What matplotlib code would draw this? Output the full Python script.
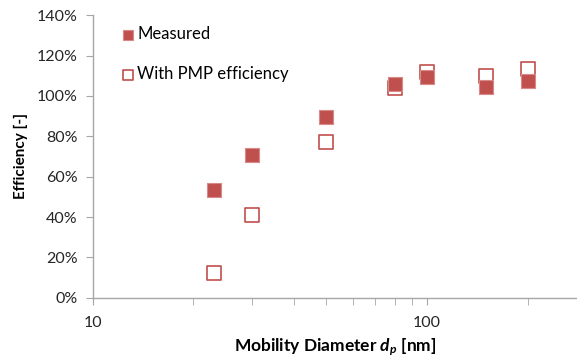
import matplotlib
matplotlib.use("Agg")
import matplotlib.pyplot as plt
from matplotlib.ticker import FixedLocator, NullFormatter, FuncFormatter

diameter_nm = [23, 30, 50, 80, 100, 150, 200]
measured = [53.5, 70.5, 89.5, 106, 109.5, 104.5, 107.5]
with_pmp = [12.5, 41, 77, 104, 112, 110, 113.5]
y_ticks = [0, 20, 40, 60, 80, 100, 120, 140]

red = "#C0504D"
grey = "#A6A6A6"
plt.rcParams['font.family'] = ['Lato', 'DejaVu Sans']
plt.rcParams['mathtext.fontset'] = 'custom'
plt.rcParams['mathtext.it'] = 'Lato:italic:bold'
plt.rcParams['mathtext.rm'] = 'Lato:bold'
plt.rcParams['mathtext.bf'] = 'Lato:italic:bold'

fig = plt.figure(figsize=(5.77, 3.61), dpi=100)
ax = fig.add_axes([0.161, 0.175, 0.839, 0.783])

ax.scatter(diameter_nm, with_pmp, marker='s', s=90, facecolor='white',
           edgecolor=red, linewidth=1.2, zorder=3, label='With PMP efficiency')
ax.scatter(diameter_nm, measured, marker='s', s=90, facecolor=red,
           edgecolor='#D98A88', linewidth=0.8, zorder=4, label='Measured')

ax.set_xscale('log')
ax.set_xlim(10, 281)
ax.set_ylim(0, 140)
ax.set_yticks(y_ticks)
ax.yaxis.set_major_formatter(FuncFormatter(lambda v, p: f"{int(v)}%"))
ax.xaxis.set_major_locator(FixedLocator([10, 100]))
ax.xaxis.set_major_formatter(FuncFormatter(lambda v, p: f"{int(v)}"))
ax.xaxis.set_minor_locator(FixedLocator([20, 30, 40, 50, 60, 70, 80, 90, 200]))
ax.xaxis.set_minor_formatter(NullFormatter())

for s in ['top', 'right']:
    ax.spines[s].set_visible(False)
for s in ['left', 'bottom']:
    ax.spines[s].set_color(grey)
    ax.spines[s].set_linewidth(1.0)

ax.tick_params(axis='y', which='major', length=5, color=grey, labelsize=11.5,
               labelcolor='#262626', pad=6)
ax.tick_params(axis='x', which='major', length=5, color=grey, labelsize=11.5,
               labelcolor='#262626', pad=8)
ax.tick_params(axis='x', which='minor', length=5, color=grey)

ax.set_ylabel('Efficiency [-]', fontsize=11, fontweight='bold', labelpad=6)
ax.set_xlabel(r'Mobility Diameter $d_p$ [nm]', fontsize=12.5,
              fontweight='bold', labelpad=5)

handles, labels = ax.get_legend_handles_labels()
leg = ax.legend(handles[::-1], labels[::-1], loc='upper left',
                bbox_to_anchor=(0.025, 1.015), frameon=False, fontsize=12,
                labelspacing=1.45, handletextpad=0.05, markerscale=0.75,
                handlelength=1.0)

fig.savefig('out.png', dpi=100)
